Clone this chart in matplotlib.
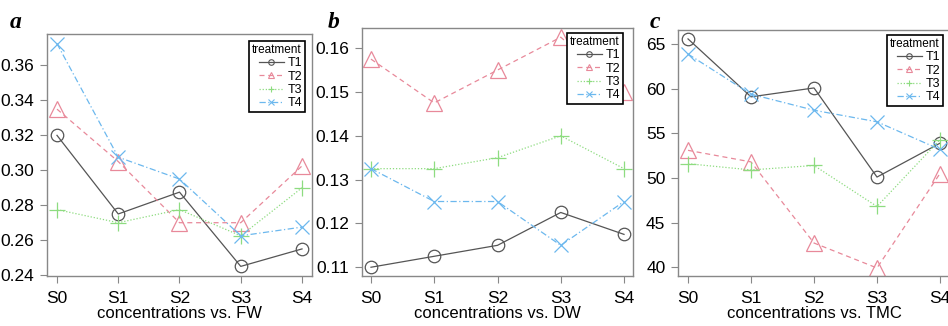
import matplotlib
matplotlib.use("Agg")
import matplotlib.pyplot as plt
from matplotlib.lines import Line2D

plt.rcParams['font.family'] = ['Liberation Sans', 'DejaVu Sans']

categories = ["S0", "S1", "S2", "S3", "S4"]
treatments = ["T1", "T2", "T3", "T4"]

fw = {
    "T1": [0.320, 0.275, 0.2875, 0.245, 0.255],
    "T2": [0.335, 0.305, 0.270, 0.270, 0.3025],
    "T3": [0.2775, 0.270, 0.2775, 0.2625, 0.290],
    "T4": [0.3725, 0.3075, 0.295, 0.2625, 0.2675],
}
dw = {
    "T1": [0.110, 0.1125, 0.115, 0.1225, 0.1175],
    "T2": [0.1575, 0.1475, 0.155, 0.1625, 0.150],
    "T3": [0.1325, 0.1325, 0.135, 0.140, 0.1325],
    "T4": [0.1325, 0.125, 0.125, 0.115, 0.125],
}
tmc = {
    "T1": [65.6, 59.1, 60.1, 50.1, 53.9],
    "T2": [53.1, 51.8, 42.7, 39.9, 50.5],
    "T3": [51.6, 50.9, 51.4, 46.8, 54.3],
    "T4": [63.9, 59.4, 57.6, 56.3, 53.2],
}

fw_ticks = [0.24, 0.26, 0.28, 0.30, 0.32, 0.34, 0.36]
fw_ticklabels = ["0.24", "0.26", "0.28", "0.30", "0.32", "0.34", "0.36"]
dw_ticks = [0.11, 0.12, 0.13, 0.14, 0.15, 0.16]
dw_ticklabels = ["0.11", "0.12", "0.13", "0.14", "0.15", "0.16"]
tmc_ticks = [40, 45, 50, 55, 60, 65]
tmc_ticklabels = ["40", "45", "50", "55", "60", "65"]

colors = {"T1": "#555555", "T2": "#E8899A", "T3": "#8EDC80", "T4": "#6CB8EE"}
styles = {"T1": "-", "T2": (0, (4, 3)), "T3": (0, (1, 1.5)), "T4": (0, (5, 2, 1, 2))}
markers = {"T1": "o", "T2": "^", "T3": "+", "T4": "x"}
msizes = {"T1": 9, "T2": 11, "T3": 12, "T4": 10}

W, H = 948, 326
fig = plt.figure(figsize=(W / 100, H / 100), dpi=100)

panels = [
    dict(data=fw, ticks=fw_ticks, labels=fw_ticklabels, xlabel="concentrations vs. FW",
         box=(47, 312, 34, 276), ylim=(0.2395, 0.378), xlim=(-0.163, 4.163), letter="a",
         lx=10, leg=(252, 305, 41, 110)),
    dict(data=dw, ticks=dw_ticks, labels=dw_ticklabels, xlabel="concentrations vs. DW",
         box=(362, 633, 28, 276), ylim=(0.1080, 0.1646), xlim=(-0.142, 4.142), letter="b",
         lx=328, leg=(572, 623, 33, 104)),
    dict(data=tmc, ticks=tmc_ticks, labels=tmc_ticklabels, xlabel="concentrations vs. TMC",
         box=(678, 950, 30, 276), ylim=(39.0, 66.6), xlim=(-0.159, 4.159), letter="c",
         lx=650, leg=(892, 943, 35, 106)),
]

x = list(range(len(categories)))
for p in panels:
    l, r, t, b = p["box"]
    ax = fig.add_axes([l / W, 1 - b / H, (r - l) / W, (b - t) / H])
    for tr in treatments:
        ax.plot(x, p["data"][tr], color=colors[tr], linestyle=styles[tr], linewidth=0.9,
                marker=markers[tr], markersize=msizes[tr], markerfacecolor="none",
                markeredgecolor=colors[tr], markeredgewidth=0.9, clip_on=True)
    ax.set_xlim(*p["xlim"])
    ax.set_ylim(*p["ylim"])
    ax.set_xticks(x)
    ax.set_xticklabels(categories)
    ax.set_yticks(p["ticks"])
    ax.set_yticklabels(p["labels"])
    ax.tick_params(axis="both", labelsize=12.5, length=5, width=0.8, color="#888888",
                   direction="out", pad=4)
    ax.tick_params(axis="x", pad=6)
    for s in ax.spines.values():
        s.set_color("#888888")
        s.set_linewidth(1.0)
    ax.set_xlabel(p["xlabel"], fontsize=12, labelpad=0)
    fig.text(p["lx"] / W, 1 - 28 / H, p["letter"], fontsize=17, fontweight="bold",
             fontstyle="italic", family=["Liberation Serif", "DejaVu Serif"])
    handles = [Line2D([0], [0], color=colors[tr], linestyle=styles[tr], linewidth=0.9,
                      marker=markers[tr], markersize=4, markerfacecolor="none",
                      markeredgecolor=colors[tr], markeredgewidth=0.8) for tr in treatments]
    ll, lr, lt, lb = p["leg"]
    leg = ax.legend(handles, treatments, title="treatment", fontsize=9, title_fontsize=8.5,
                    loc="upper right",
                    bbox_to_anchor=((lr - l) / (r - l), (b - lt) / (b - t)),
                    frameon=True, fancybox=False, edgecolor="black", framealpha=1,
                    handlelength=2.0, handletextpad=0.3, borderpad=0.25, labelspacing=0.1,
                    borderaxespad=0, alignment="right")
    leg.get_frame().set_linewidth(1.2)

fig.savefig("out.png", dpi=100)
